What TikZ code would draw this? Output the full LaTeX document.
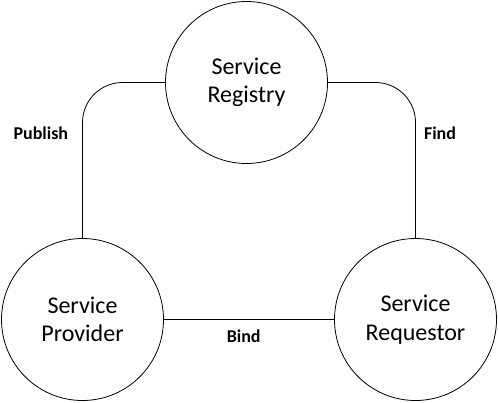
\documentclass[tikz,border=0pt]{standalone}
\usepackage{fontspec}
\setmainfont{Carlito}
\usetikzlibrary{math}

\begin{document}
\begin{tikzpicture}[x=1pt,y=-1pt]

\tikzmath{
\radius = 81;
\corner = 40;
}

\tikzset{
  role/.style={draw, circle, line width=0.8pt, minimum size=2*\radius pt, inner sep=0pt,
    align=center, font=\fontsize{24}{28.5}\selectfont},
  verb/.style={font=\fontsize{18}{20}\selectfont\bfseries},
  link/.style={line width=0.8pt}
}

\useasboundingbox (0,0) rectangle (498,402);

\node[role] (registry)  at (246.5, 82.5)  {Service\\Registry};
\node[role] (provider)  at (82.5, 319.5)  {Service\\Provider};
\node[role] (requestor) at (415.5, 319.5) {Service\\Requestor};

\draw[link, rounded corners=\corner pt] (registry.west) -| (provider.north);
\draw[link, rounded corners=\corner pt] (registry.east) -| (requestor.north);
\draw[link] (provider.east) -- (requestor.west);

\node[verb] (publish) at (40.8, 133.5) {Publish};
\node[verb] (find)    at (440, 133.5)  {Find};
\node[verb] (bind)    at (243.7, 336)  {Bind};

\end{tikzpicture}
\end{document}
